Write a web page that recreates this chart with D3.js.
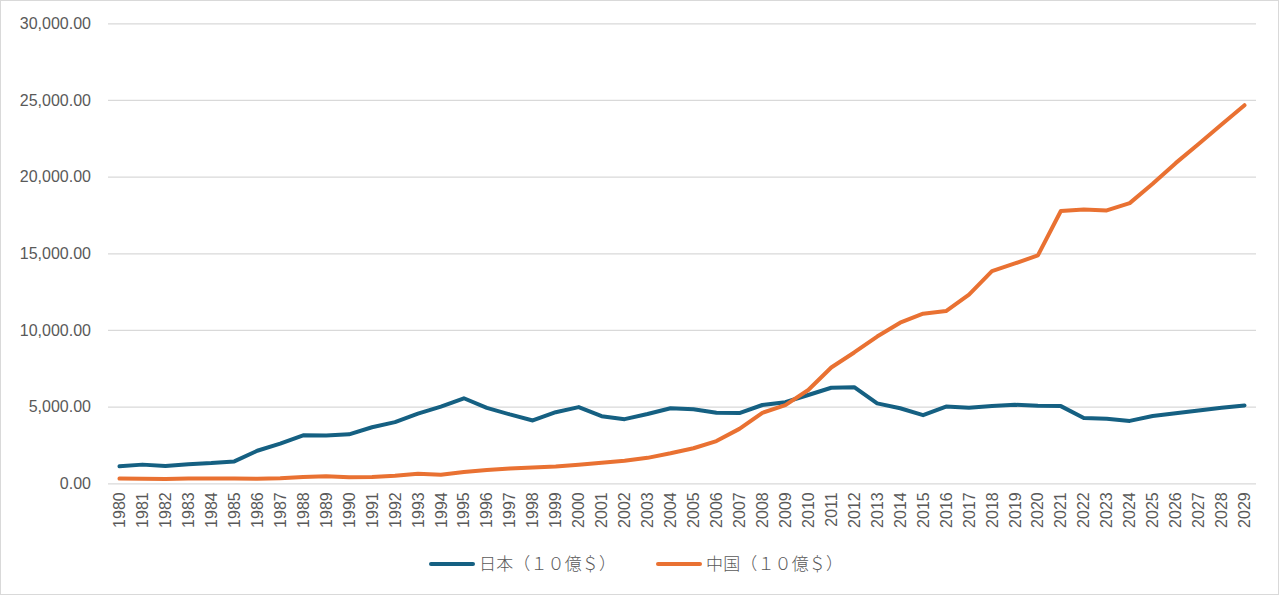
<!DOCTYPE html>
<meta charset="utf-8">
<style>
body { margin: 0; background: #fff; }
svg { font-family: "Liberation Sans", Arial, "Noto Sans CJK JP", sans-serif; }
.grid line { stroke: #d9d9d9; stroke-width: 1.3; }
.axis text { fill: #595959; }
.series { fill: none; stroke-width: 4; stroke-linejoin: round; stroke-linecap: round; }
</style>
<svg width="1279" height="595"></svg>
<script src="https://cdn.jsdelivr.net/npm/d3@7"></script>
<script>

var years = d3.range(1980, 2030).map(String);

var japan = [1105, 1218, 1134, 1243, 1318, 1427, 2121, 2585, 3126, 3117,
             3196, 3657, 3988, 4545, 4999, 5546, 4923, 4492, 4098, 4636,
             4968, 4374, 4183, 4519, 4894, 4832, 4601, 4579, 5106, 5289,
             5759, 6233, 6272, 5212, 4897, 4445, 5004, 4931, 5041, 5118,
             5055, 5034, 4256, 4213, 4070, 4390, 4570, 4750, 4930, 5080];

var china = [305, 290, 285, 305, 314, 310, 302, 327, 408, 457,
             395, 415, 494, 617, 564, 735, 867, 965, 1033, 1099,
             1211, 1339, 1471, 1660, 1955, 2286, 2752, 3550, 4594, 5101,
             6087, 7552, 8532, 9570, 10475, 11062, 11233, 12310, 13842, 14340,
             14863, 17759, 17849, 17795, 18273, 19535, 20880, 22130, 23400, 24660];

var yTicks = [0, 5000, 10000, 15000, 20000, 25000, 30000];

var seriesNames = ["日本（１０億＄）", "中国（１０億＄）"];
var seriesColors = ["#156082", "#e97132"];

var svg = d3.select("svg"),
    width = +svg.attr("width"),
    height = +svg.attr("height");

// outer border
svg.append("rect")
    .attr("x", 0.5).attr("y", 0.5)
    .attr("width", width - 1).attr("height", height - 1)
    .attr("fill", "#fff").attr("stroke", "#d9d9d9");

var plotL = 108, plotR = 1256, plotT = 23.3, plotB = 483.3;

var x = d3.scaleBand().domain(years).range([plotL, plotR]);
var y = d3.scaleLinear().domain([0, 30000]).range([plotB, plotT]);

// gridlines
svg.append("g")
    .attr("class", "grid")
    .attr("transform", "translate(" + plotL + ",0)")
    .call(d3.axisLeft(y).tickValues(yTicks).tickSize(-(plotR - plotL)).tickFormat(""))
    .call(g => g.select(".domain").remove());

// y labels
svg.append("g")
    .attr("class", "axis")
    .attr("transform", "translate(" + plotL + ",0)")
    .call(d3.axisLeft(y).tickValues(yTicks).tickSize(0).tickPadding(17)
        .tickFormat(d3.format(",.2f")))
    .call(g => g.select(".domain").remove())
    .selectAll("text")
    .style("font-size", "16px");

// x labels
var xAxis = svg.append("g")
    .attr("class", "axis")
    .attr("transform", "translate(0," + plotB + ")")
    .call(d3.axisBottom(x).tickSize(0))
    .call(g => g.select(".domain").remove());

xAxis.selectAll("text")
    .style("font-size", "16px")
    .attr("transform", "rotate(-90)")
    .attr("x", -9)
    .attr("y", 0)
    .attr("dy", "0.35em")
    .style("text-anchor", "end");

var line = d3.line()
    .x((d, i) => x(years[i]) + x.bandwidth() / 2)
    .y(d => y(d));

[japan, china].forEach(function(vals, k) {
  svg.append("path")
      .datum(vals)
      .attr("class", "series")
      .attr("stroke", seriesColors[k])
      .attr("d", line);
});

// legend
var legendX = [431, 658];
var legend = svg.append("g").attr("class", "axis");
seriesNames.forEach(function(name, k) {
  var g = legend.append("g").attr("transform", "translate(" + legendX[k] + ",564)");
  g.append("line")
      .attr("x1", 0).attr("x2", 42)
      .attr("stroke", seriesColors[k])
      .attr("stroke-width", 4)
      .attr("stroke-linecap", "round");
  g.append("text")
      .attr("x", 48)
      .attr("dy", "0.36em")
      .attr("textLength", 137)
      .attr("lengthAdjust", "spacing")
      .style("font-size", "17px")
      .style("font-weight", 300)
      .style("font-family", "'Noto Sans CJK JP', sans-serif")
      .text(name);
});

</script>
